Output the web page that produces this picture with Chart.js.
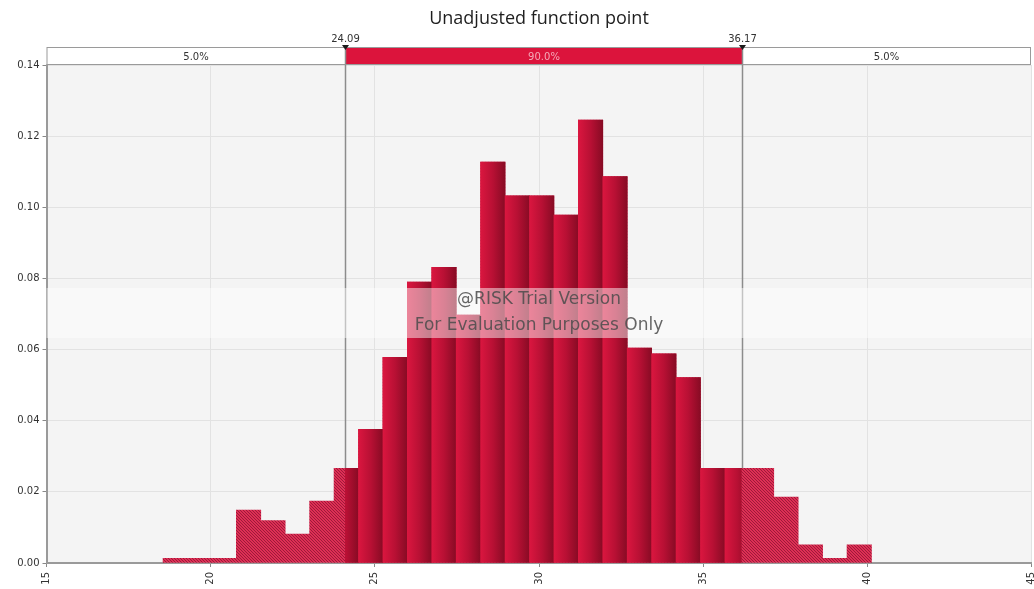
<!DOCTYPE html>
<html>
<head>
<meta charset="utf-8">
<script src="https://cdn.jsdelivr.net/npm/chart.js@4.4.1/dist/chart.umd.min.js"></script>
<style>
  html, body { margin: 0; padding: 0; background: #ffffff; }
  #wrap { width: 1034px; height: 589px; }
</style>
</head>
<body>
<div id="wrap"><canvas id="chart" width="1034" height="589"></canvas></div>
<script>
// Histogram of simulated unadjusted function point values
const binCenters = [
  18.922, 19.666, 20.410, 21.154, 21.898, 22.642, 23.386, 24.130, 24.874, 25.618,
  26.362, 27.106, 27.850, 28.594, 29.338, 30.082, 30.826, 31.570, 32.314, 33.058,
  33.802, 34.546, 35.290, 36.034, 36.778, 37.522, 38.266, 39.010, 39.754
];
const binWidth = 0.744;
const density = [
  0.0013, 0.0013, 0.0013, 0.0149, 0.0119, 0.0081, 0.0174, 0.0266, 0.0376, 0.0578,
  0.0790, 0.0831, 0.0697, 0.1127, 0.1032, 0.1032, 0.0978, 0.1245, 0.1086, 0.0604,
  0.0588, 0.0521, 0.0266, 0.0266, 0.0266, 0.0185, 0.0051, 0.0013, 0.0051
];

// 5% / 95% percentile markers and the share of values in each region
const cutoffs = [24.09, 36.17];
const cutoffLabels = ['24.09', '36.17'];
const bandLabels = ['5.0%', '90.0%', '5.0%'];

const xTickLabels = [15, 20, 25, 30, 35, 40, 45];
const yTickLabels = [0.00, 0.02, 0.04, 0.06, 0.08, 0.10, 0.12, 0.14];

const chartTitle = 'Unadjusted function point';
const watermarkLines = ['@RISK Trial Version', 'For Evaluation Purposes Only'];

const FONT = "'DejaVu Sans', sans-serif";
const TITLE_FONT = "'Open Sans', 'Noto Sans', sans-serif";

// Hatched fill for the tails outside the 90% interval
function makeHatch() {
  const t = document.createElement('canvas');
  t.width = 3; t.height = 3;
  const g = t.getContext('2d');
  g.fillStyle = '#de2f55';
  g.fillRect(0, 0, 3, 3);
  g.fillStyle = 'rgba(105, 10, 35, 0.55)';
  for (let i = 0; i < 3; i++) g.fillRect(i, i, 1, 1);
  return g.createPattern(t, 'repeat');
}
const hatch = makeHatch();

// Horizontal shading on each solid bar: bright on the left, dark on the right
function solidFill(ctx) {
  const chart = ctx.chart;
  const xs = chart.scales && chart.scales.x;
  if (ctx.type !== 'data' || !xs) return '#b50f33';
  const c = binCenters[ctx.dataIndex];
  const l = xs.getPixelForValue(c - binWidth / 2);
  const r = xs.getPixelForValue(c + binWidth / 2);
  if (!isFinite(l) || !isFinite(r) || r <= l) return '#b50f33';
  const g = chart.ctx.createLinearGradient(l, 0, r, 0);
  g.addColorStop(0, '#da163f');
  g.addColorStop(0.5, '#b81034');
  g.addColorStop(1, '#880b24');
  return g;
}

const points = binCenters.map((x, i) => ({ x: x, y: density[i] }));

const plotDecor = {
  id: 'plotDecor',
  beforeDraw(chart) {
    const { ctx, chartArea: a } = chart;
    ctx.save();
    ctx.fillStyle = '#f4f4f4';
    ctx.fillRect(a.left, a.top, a.right - a.left, a.bottom - a.top);
    ctx.restore();
  },
  beforeDatasetsDraw(chart) {
    const { ctx, chartArea: a, scales: { x } } = chart;
    ctx.save();
    ctx.strokeStyle = '#8c8c8c';
    ctx.lineWidth = 1.5;
    cutoffs.forEach(v => {
      const px = Math.round(x.getPixelForValue(v)) + 0.5;
      ctx.beginPath();
      ctx.moveTo(px, 47);
      ctx.lineTo(px, a.bottom);
      ctx.stroke();
    });
    ctx.restore();
  },
  beforeDatasetDraw(chart, args) {
    if (chart.data.datasets[args.index].label === 'inside') {
      const { ctx, chartArea: a, scales: { x } } = chart;
      const l = x.getPixelForValue(cutoffs[0]);
      const r = x.getPixelForValue(cutoffs[1]);
      ctx.save();
      ctx.beginPath();
      ctx.rect(l, a.top, r - l, a.bottom - a.top);
      ctx.clip();
    }
  },
  afterDatasetDraw(chart, args) {
    if (chart.data.datasets[args.index].label === 'inside') {
      chart.ctx.restore();
    }
  },
  afterDatasetsDraw(chart) {
    const { ctx, chartArea: a } = chart;
    // translucent evaluation band across the plot
    ctx.save();
    ctx.fillStyle = 'rgba(255, 255, 255, 0.48)';
    ctx.fillRect(a.left, 288, a.right - a.left, 50);
    ctx.fillStyle = 'rgba(75, 75, 75, 0.85)';
    ctx.font = '17px ' + FONT;
    ctx.textAlign = 'center';
    ctx.textBaseline = 'middle';
    const cx = (a.left + a.right) / 2;
    ctx.fillText(watermarkLines[0], cx, 300);
    ctx.fillText(watermarkLines[1], cx, 326);
    ctx.restore();
  },
  afterDraw(chart) {
    const { ctx, chartArea: a, scales: { x } } = chart;
    const top = 47.5, bot = 64.5;
    const xl = a.left, xr = a.right - 1;
    const c0 = Math.round(x.getPixelForValue(cutoffs[0])) + 0.5;
    const c1 = Math.round(x.getPixelForValue(cutoffs[1])) + 0.5;
    ctx.save();
    ctx.fillStyle = '#ffffff';
    ctx.fillRect(xl, top, xr - xl, bot - top);
    ctx.fillStyle = '#dc143c';
    ctx.fillRect(c0, top, c1 - c0, bot - top);
    ctx.strokeStyle = '#9a9a9a';
    ctx.lineWidth = 1;
    ctx.strokeRect(xl + 0.5, top, xr - xl - 0.5, bot - top);
    ctx.strokeStyle = '#8c8c8c';
    ctx.lineWidth = 1.5;
    [c0, c1].forEach(px => {
      ctx.beginPath(); ctx.moveTo(px, top); ctx.lineTo(px, bot); ctx.stroke();
    });
    // region labels
    ctx.font = '10px ' + FONT;
    ctx.textAlign = 'center';
    ctx.textBaseline = 'middle';
    const mids = [(xl + c0) / 2, (c0 + c1) / 2, (c1 + xr) / 2];
    bandLabels.forEach((t, i) => {
      ctx.fillStyle = i === 1 ? '#f4a9b8' : '#333333';
      ctx.fillText(t, mids[i], 57);
    });
    // percentile values with down-pointing markers
    ctx.textBaseline = 'alphabetic';
    [c0, c1].forEach((px, i) => {
      ctx.fillStyle = '#333333';
      ctx.fillText(cutoffLabels[i], px, 42);
      ctx.beginPath();
      ctx.moveTo(px - 3.5, 45);
      ctx.lineTo(px + 3.5, 45);
      ctx.lineTo(px, 50);
      ctx.closePath();
      ctx.fillStyle = '#1a1a1a';
      ctx.fill();
    });
    ctx.restore();
  }
};

const chart = new Chart(document.getElementById('chart'), {
  type: 'bar',
  data: {
    datasets: [
      {
        label: 'inside',
        data: points,
        backgroundColor: solidFill,
        borderWidth: 0,
        barPercentage: 1,
        categoryPercentage: 1,
        grouped: false,
        order: 1
      },
      {
        label: 'tails',
        data: points,
        backgroundColor: hatch,
        borderWidth: 0,
        barPercentage: 1,
        categoryPercentage: 1,
        grouped: false,
        order: 2
      }
    ]
  },
  options: {
    responsive: false,
    animation: false,
    devicePixelRatio: 1,
    layout: { padding: { left: 0, right: 2.5, top: 0, bottom: 0 } },
    plugins: {
      legend: { display: false },
      tooltip: { enabled: false },
      title: {
        display: true,
        fullSize: false,
        text: chartTitle,
        color: '#1e1e1e',
        font: { family: TITLE_FONT, size: 18, weight: 'normal' },
        padding: { top: 8, bottom: 35.4 }
      }
    },
    scales: {
      x: {
        type: 'linear',
        offset: false,
        min: xTickLabels[0],
        max: xTickLabels[xTickLabels.length - 1],
        afterBuildTicks(s) { s.ticks = xTickLabels.map(v => ({ value: v })); },
        afterFit(s) { s.height = 26; s.paddingLeft = 0; s.paddingRight = 0; },
        ticks: {
          minRotation: 90,
          maxRotation: 90,
          padding: 5,
          color: '#333333',
          font: { family: FONT, size: 10 },
          callback: v => String(v)
        },
        grid: { offset: false, color: '#e2e2e2', lineWidth: 1, tickLength: 4, tickColor: '#888888' },
        border: { color: '#9a9a9a', width: 2 }
      },
      y: {
        min: 0,
        max: yTickLabels[yTickLabels.length - 1],
        afterBuildTicks(s) { s.ticks = yTickLabels.map(v => ({ value: v })); },
        afterFit(s) { s.width = 46.5; },
        ticks: {
          padding: 3,
          color: '#333333',
          font: { family: FONT, size: 10 },
          callback: v => Number(v).toFixed(2)
        },
        grid: { color: '#e2e2e2', lineWidth: 1, tickLength: 4, tickColor: '#888888' },
        border: { color: '#9a9a9a', width: 2 }
      }
    }
  },
  plugins: [plotDecor]
});
chart.update();
</script>
</body>
</html>
